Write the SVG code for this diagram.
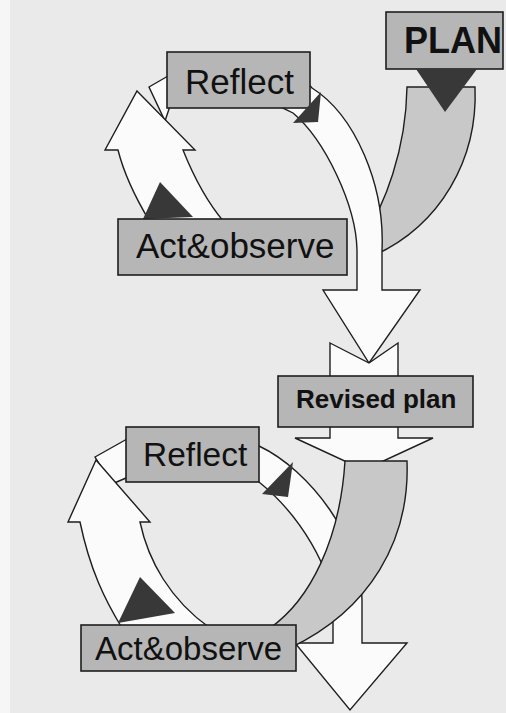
<svg xmlns="http://www.w3.org/2000/svg" width="506" height="713" viewBox="0 0 506 713">
  <defs>
    <style>
      .box { fill: #b6b6b6; stroke: #1e1e1e; stroke-width: 1.6; }
      .band { fill: #c8c8c8; stroke: #1e1e1e; stroke-width: 1.4; }
      .white { fill: #fbfbfb; stroke: #1e1e1e; stroke-width: 1.4; stroke-linejoin: miter; }
      .tri { fill: #383838; stroke: none; }
      .lbl { font-family: "Liberation Sans", Arial, sans-serif; fill: #111; }
      .bold { font-weight: bold; }
    </style>
  </defs>
  <rect x="0" y="0" width="506" height="713" fill="#eaeaea"/>
  <rect x="0" y="0" width="10" height="713" fill="#f6f6f6"/>

  <g id="connectors">
    <!-- top cycle -->
    <path id="plan-band" class="band" d="M407,87 L475,87 C478,160 440,225 375,255 L362,240 C385,205 406,150 407,87 Z"/>
    <path id="top-reflect-to-revised" class="white" d="M149,87 L168,76 C210,56 290,56 312,88 C355,115 385,185 382,250 L382,290 L420,290 L369,363 L323,290 L357,290 L357,250 C356,205 325,140 293,113 C255,92 195,92 172,100 L165,121 Z"/>
    <path id="top-act-to-reflect" class="white" d="M137,91 L195,150 L183,150 C195,180 208,203 224,222 L150,222 C138,202 125,178 118,150 L105,150 Z"/>
    <!-- revised plan arrow -->
    <path id="revised-arrow" class="white" d="M330,343 L369,363 L398,343 L398,438 L433,438 L364,470 L295,438 L330,438 Z"/>
    <!-- bottom cycle -->
    <path id="bottom-reflect-to-end" class="white" d="M95,457 L127,439 C150,428 230,428 259,446 C310,470 362,540 362,600 L362,643 L407,643 L350,710 L295,643 L333,643 L333,610 C333,570 300,515 259,482 C230,465 150,465 126,478 L112,484 Z"/>
    <path id="revised-band" class="band" d="M345,461 L407,461 C410,540 370,610 290,648 L270,628 C310,600 340,540 345,461 Z"/>
    <path id="bottom-act-to-reflect" class="white" d="M96,460 L150,522 L140,522 C148,560 170,600 210,628 L122,628 C105,600 90,570 80,522 L68,522 Z"/>
  </g>

  <g id="plan">
    <rect class="box" x="386" y="12" width="117" height="57"/>
    <text class="lbl bold" x="404" y="53" font-size="36">PLAN</text>
    <polygon class="tri" points="416,69 477,69 445,112"/>
  </g>

  <g id="reflect-1">
    <rect class="box" x="167" y="52" width="143" height="56"/>
    <text class="lbl" x="185" y="94" font-size="35">Reflect</text>
    <polygon class="tri" points="321,92 293,123 318,122"/>
  </g>

  <g id="act-observe-1">
    <polygon class="tri" points="160,182 143,219 193,217"/>
    <rect class="box" x="118" y="219" width="229" height="56"/>
    <text class="lbl" x="136" y="258" font-size="35">Act&amp;observe</text>
  </g>

  <g id="revised-plan">
    <rect class="box" x="278" y="376" width="195" height="51"/>
    <text class="lbl bold" x="296" y="408" font-size="26">Revised plan</text>
  </g>

  <g id="reflect-2">
    <rect class="box" x="126" y="427" width="133" height="55"/>
    <text class="lbl" x="143" y="466" font-size="33.5">Reflect</text>
    <polygon class="tri" points="293,462 262,494 288,497"/>
  </g>

  <g id="act-observe-2">
    <polygon class="tri" points="140,577 118,623 175,613"/>
    <rect class="box" x="81" y="625" width="215" height="46"/>
    <text class="lbl" x="95" y="660" font-size="33">Act&amp;observe</text>
  </g>
</svg>
